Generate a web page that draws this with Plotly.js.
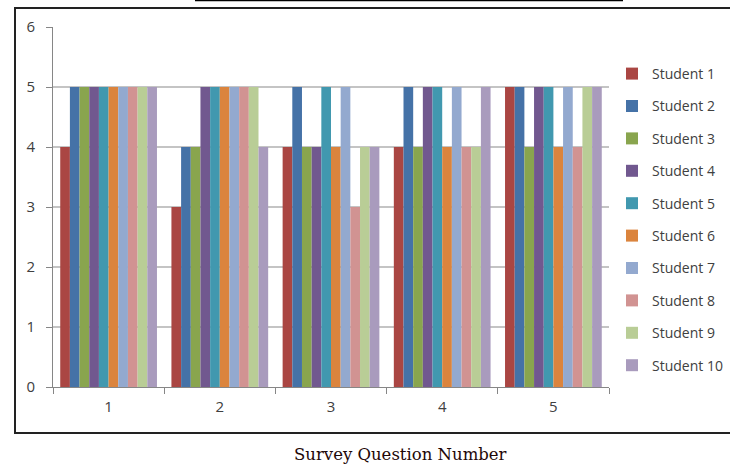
<!DOCTYPE html>
<html>
<head>
<meta charset="utf-8">
<script src="https://cdn.plot.ly/plotly-3.0.1.min.js"></script>
<style>html,body{margin:0;padding:0;background:#fff;}#chart{width:730px;height:465px;}</style>
</head>
<body>
<div id="chart"></div>
<script>
var questions = ['1', '2', '3', '4', '5'];
var students = ['Student 1','Student 2','Student 3','Student 4','Student 5','Student 6','Student 7','Student 8','Student 9','Student 10'];
var student1  = [4, 3, 4, 4, 5];
var student2  = [5, 4, 5, 5, 5];
var student3  = [5, 4, 4, 4, 4];
var student4  = [5, 5, 4, 5, 5];
var student5  = [5, 5, 5, 5, 5];
var student6  = [5, 5, 4, 4, 4];
var student7  = [5, 5, 5, 5, 5];
var student8  = [5, 5, 3, 4, 4];
var student9  = [5, 5, 4, 4, 5];
var student10 = [5, 4, 4, 5, 5];
var yTicks = [0, 1, 2, 3, 4, 5, 6];
var colors = ['#AA4643','#4572A7','#89A54E','#71588F','#4198AF','#DB843D','#93A9CF','#D19392','#B9CD96','#A99BBD'];

var series = [student1, student2, student3, student4, student5, student6, student7, student8, student9, student10];
var traces = series.map(function(vals, i) {
  return {
    type: 'bar',
    name: students[i],
    x: questions,
    y: vals,
    legendgroup: 'g' + i,
    marker: {color: colors[i], line: {width: 0}},
    hoverinfo: 'x+y+name'
  };
});

var L = 53, R = 609, T = 27, B = 387;
function px(x) { return (x - L) / (R - L); }
function py(y) { return (B - y) / (B - T); }

var layout = {
  width: 730, height: 465,
  margin: {l: L, r: 730 - R, t: T, b: 465 - B, pad: 0, autoexpand: false},
  paper_bgcolor: '#ffffff',
  plot_bgcolor: '#ffffff',
  barmode: 'group',
  bargap: 0.13,
  bargroupgap: 0,
  font: {family: 'Open Sans, sans-serif', size: 14, color: '#404040'},
  showlegend: true,
  legend: {
    x: px(612), xanchor: 'left',
    y: py(58), yanchor: 'top',
    traceorder: 'grouped',
    tracegroupgap: 11.2,
    font: {family: 'Open Sans, sans-serif', size: 14, color: '#404040'},
    itemwidth: 30,
    bgcolor: 'rgba(0,0,0,0)'
  },
  xaxis: {
    type: 'category',
    tickson: 'boundaries',
    ticks: 'outside', ticklen: 6, tickcolor: '#868686', tickwidth: 1,
    showline: true, linecolor: '#868686', linewidth: 1,
    showgrid: false,
    ticklabelstandoff: 6,
    tickfont: {family: 'Open Sans, sans-serif', size: 15, color: '#404040'},
    fixedrange: true
  },
  yaxis: {
    range: [0, 6],
    tickvals: yTicks,
    ticks: 'outside', ticklen: 6, tickcolor: '#868686', tickwidth: 1,
    showline: true, linecolor: '#868686', linewidth: 1,
    showgrid: true, gridcolor: '#c4c4c4', gridwidth: 1.5,
    zeroline: false,
    ticklabelstandoff: 8,
    tickfont: {family: 'Open Sans, sans-serif', size: 15, color: '#404040'},
    fixedrange: true
  },
  shapes: [
    {type: 'rect', xref: 'paper', yref: 'paper', x0: px(15), x1: px(740), y0: py(433), y1: py(8),
     line: {color: '#222222', width: 2}, fillcolor: 'rgba(0,0,0,0)', layer: 'below'},
    {type: 'line', xref: 'paper', yref: 'paper', x0: px(195), x1: px(623), y0: py(0.5), y1: py(0.5),
     line: {color: '#000000', width: 1.5}}
  ],
  annotations: [
    {text: 'Survey Question Number', xref: 'paper', yref: 'paper', x: px(400), y: py(454),
     xanchor: 'center', yanchor: 'middle', showarrow: false,
     font: {family: 'DejaVu Serif, serif', size: 16.5, color: '#1f0808'}}
  ]
};

Plotly.newPlot('chart', traces, layout, {displayModeBar: false, staticPlot: true});
</script>
</body>
</html>
